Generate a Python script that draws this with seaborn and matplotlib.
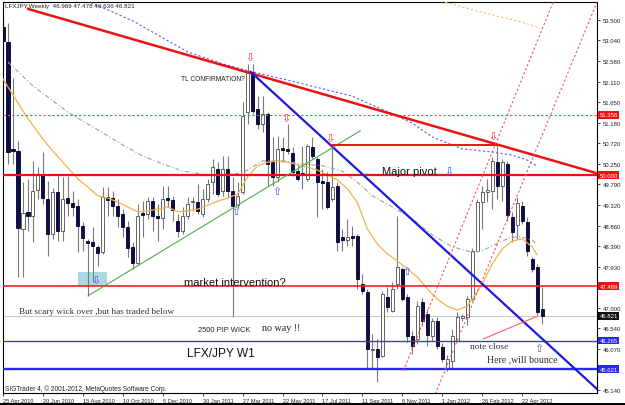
import numpy as np
import pandas as pd
import matplotlib
matplotlib.use("Agg")
import matplotlib.pyplot as plt
import matplotlib.transforms as mtransforms
from matplotlib.patches import Rectangle
import seaborn as sns

# ---------------- data (weekly candles, week index 0 = 25 Apr 2010) ----------------
opens = [53.34, 53.00, 50.59, 50.54, 48.78, 49.17, 49.08, 49.66, 50.00, 49.46,
         48.67, 49.62, 48.74, 49.48, 49.37, 49.30, 48.85, 48.51, 48.49, 48.38,
         48.26, 49.50, 49.48, 49.30, 49.12, 48.83, 48.38, 48.01, 49.14, 49.12,
         49.41, 49.08, 49.03, 49.48, 49.44, 48.96, 48.74, 49.08, 49.39, 49.39,
         49.12, 49.46, 49.84, 50.14, 49.64, 50.14, 49.64, 49.32, 49.62, 51.42,
         52.33, 51.49, 51.15, 51.38, 50.29, 49.96, 50.61, 50.59, 50.50, 50.09,
         50.05, 49.91, 50.63, 50.36, 49.87, 49.84, 49.46, 49.75, 48.60, 48.53,
         48.62, 48.62, 47.54, 47.36, 46.05, 46.07, 45.92, 47.25, 46.93, 47.54,
         47.88, 47.25, 46.37, 46.30, 47.13, 46.86, 46.37, 46.71, 46.12, 45.64,
         45.80, 46.25, 46.77, 46.80, 47.20, 48.29, 49.39, 49.62, 49.64, 50.29,
         49.75, 50.25, 49.05, 48.87, 49.30, 48.94, 48.11, 47.92, 46.969]
highs = [53.52, 53.43, 52.19, 50.77, 49.84, 49.91, 50.32, 50.18, 50.52, 49.87,
         49.71, 50.02, 49.96, 49.98, 49.64, 49.46, 48.94, 48.56, 48.83, 48.42,
         49.73, 49.73, 49.64, 49.46, 49.23, 48.96, 48.49, 49.35, 49.41, 49.50,
         49.50, 49.35, 49.75, 49.75, 49.53, 49.12, 49.28, 49.50, 49.50, 49.80,
         49.69, 49.91, 50.36, 50.29, 50.43, 50.43, 49.96, 49.84, 51.65, 52.51,
         52.51, 51.78, 51.78, 51.42, 50.86, 50.88, 50.86, 51.15, 50.63, 50.25,
         50.66, 50.70, 50.86, 50.41, 50.14, 50.07, 50.68, 49.84, 48.78, 49.01,
         48.85, 48.67, 47.77, 47.43, 46.41, 46.30, 47.38, 47.47, 47.59, 49.08,
         47.92, 47.31, 46.48, 47.16, 47.22, 46.98, 46.77, 46.80, 46.21, 45.94,
         46.53, 46.91, 46.86, 47.27, 48.35, 49.46, 49.75, 49.91, 50.41, 50.68,
         50.36, 50.32, 49.17, 49.50, 49.41, 49.05, 48.15, 47.99, 47.478]
lows = [52.98, 50.25, 50.25, 47.70, 47.70, 48.74, 48.49, 49.46, 49.35, 48.17,
        48.56, 48.51, 48.51, 49.08, 49.08, 48.26, 48.29, 47.27, 47.59, 47.95,
        48.22, 49.08, 49.08, 48.83, 48.60, 48.15, 47.88, 47.99, 48.60, 49.01,
        48.74, 48.51, 48.78, 49.28, 48.96, 48.60, 48.67, 49.01, 49.19, 49.12,
        49.05, 49.39, 49.57, 49.53, 49.53, 49.50, 46.80, 49.26, 49.57, 51.15,
        51.38, 51.04, 50.97, 49.75, 49.75, 49.84, 50.29, 50.48, 49.98, 49.87,
        49.69, 49.87, 50.36, 49.05, 49.23, 49.23, 49.41, 48.29, 48.29, 48.40,
        48.40, 47.43, 47.31, 45.62, 45.62, 45.33, 45.89, 46.91, 46.91, 47.43,
        47.16, 46.23, 45.96, 46.19, 46.59, 46.14, 46.25, 46.07, 45.78, 45.58,
        45.64, 46.23, 46.71, 46.62, 47.16, 48.26, 48.78, 49.39, 49.23, 49.46,
        49.41, 48.96, 48.49, 48.56, 48.89, 48.17, 47.81, 46.84, 46.636]
closes = [53.03, 50.52, 50.54, 48.80, 49.14, 49.08, 49.64, 50.02, 49.48, 48.67,
          49.62, 48.74, 49.46, 49.37, 49.28, 48.85, 48.58, 48.47, 48.40, 48.24,
          49.50, 49.44, 49.30, 49.08, 48.83, 48.35, 48.01, 49.08, 49.10, 49.41,
          49.08, 49.03, 49.46, 49.44, 49.21, 48.74, 49.08, 49.35, 49.41, 49.19,
          49.46, 49.80, 50.18, 49.57, 50.14, 49.64, 49.30, 49.53, 51.33, 52.33,
          51.45, 51.15, 51.38, 50.25, 49.96, 50.59, 50.57, 50.54, 50.07, 49.91,
          50.00, 50.66, 50.43, 49.84, 49.82, 49.28, 49.73, 48.49, 48.53, 48.60,
          48.58, 47.65, 47.38, 46.07, 46.08, 45.89, 47.31, 47.02, 47.43, 47.92,
          47.20, 46.37, 46.14, 47.04, 46.71, 46.39, 46.71, 46.14, 45.85, 45.85,
          46.37, 46.80, 46.82, 47.20, 48.29, 49.39, 49.62, 49.66, 50.32, 49.75,
          50.29, 49.10, 48.71, 49.37, 48.96, 48.29, 47.88, 46.91, 46.821]
weeks = np.arange(len(opens))

# moving averages (week index, price)
ma_orange_w = [0, 5, 8, 10, 12, 15, 17, 19, 21, 23, 25, 27, 29, 31, 33, 35, 37, 39, 41, 43,
               45, 47, 49, 51, 53, 55, 57, 59, 61, 63, 65, 67, 69, 71, 73, 75, 77, 79, 81,
               83, 85, 87, 89, 91, 93, 94, 96, 98, 100, 102, 104, 106, 107]
ma_orange_v = [52.17, 51.27, 50.81, 50.54, 50.29, 49.91, 49.73, 49.53, 49.48, 49.39, 49.28,
               49.17, 49.19, 49.23, 49.28, 49.17, 49.19, 49.23, 49.32, 49.41, 49.48, 49.57,
               49.96, 50.21, 50.29, 50.32, 50.29, 50.23, 50.18, 50.11, 50.00, 49.89, 49.69,
               49.38, 48.78, 48.44, 48.22, 48.06, 47.88, 47.70, 47.43, 47.20, 47.04, 46.95,
               47.04, 47.20, 47.54, 47.99, 48.33, 48.51, 48.56, 48.38, 48.20]
ma_gray_w = [1, 6, 13, 20, 24, 28, 32, 36, 40, 44, 48, 52, 56, 60, 64, 68, 71, 74, 78, 82,
             86, 90, 94, 96, 98, 100, 102, 104, 106, 107]
ma_gray_v = [52.55, 52.01, 51.42, 50.95, 50.68, 50.43, 50.25, 50.09, 50.02, 50.00, 50.05,
             50.32, 50.32, 50.25, 50.21, 50.09, 49.84, 49.53, 49.28, 49.01, 48.65, 48.38,
             48.26, 48.29, 48.40, 48.51, 48.60, 48.60, 48.53, 48.44]
ma_blue_w = [16, 26, 37, 44, 50, 60, 70, 74, 78, 82, 86, 92, 98, 102, 105, 107]
ma_blue_v = [53.97, 53.48, 52.78, 52.51, 52.33, 52.06, 51.78, 51.58, 51.38, 51.17, 50.86,
             50.59, 50.52, 50.45, 50.34, 50.20]
ma_top_w = [86, 90, 95, 100, 104, 107]
ma_top_v = [53.97, 53.86, 53.70, 53.56, 53.45, 53.34]

# horizontal levels
level_red_dot = 51.358
level_pivot = 50.000
level_interv = 47.489
level_last = 46.821
level_blue1 = 46.265
level_blue2 = 45.621

# trend lines (week index, price) end points
red_tl_w, red_tl_v = [5, 119.6], [53.75, 50.02]
blue_tl_w, blue_tl_v = [49.6, 119.0], [52.33, 45.17]
green_tl_w, green_tl_v = [17.0, 71.6], [47.27, 51.00]
pivot_seg_w, pivot_seg_v = [66, 99], [50.68, 50.68]
chan_a_w, chan_a_v = [80.2, 110.2], [45.58, 53.90]
chan_b_w, chan_b_v = [86.6, 119.0], [45.06, 53.90]
note_w, note_v = [96.2, 107.2], [46.30, 46.82]

ytick_vals = [53.5, 53.04, 52.58, 52.11, 51.65, 51.18, 50.72, 50.25, 49.79, 49.32,
              48.86, 48.39, 47.93, 47.0, 46.54, 46.07, 45.14]
xtick_weeks = list(range(0, 105, 8))
xtick_labels = ["25 Apr 2010", "20 Jun 2010", "15 Aug 2010", "10 Oct 2010", "5 Dec 2010",
                "30 Jan 2011", "27 Mar 2011", "22 May 2011", "17 Jul 2011", "11 Sep 2011",
                "6 Nov 2011", "1 Jan 2012", "26 Feb 2012", "22 Apr 2012"]

# ---------------- figure ----------------
sns.set_style("white")
plt.rcParams['font.family'] = ['Liberation Sans', 'DejaVu Sans']

fig = plt.figure(figsize=(6.25, 4.06), dpi=100)
ax = fig.add_axes([3 / 625, 12 / 406, 594 / 625, 391 / 406])
ax.set_xlim(0.2, 119.0)
ax.set_ylim(45.08, 53.906)

df = pd.DataFrame({'week': weeks, 'open': opens, 'high': highs, 'low': lows, 'close': closes})
bull = df['close'] >= df['open']
bottom = np.minimum(df['open'], df['close'])
height = np.maximum((df['close'] - df['open']).abs(), 0.015)

# teal highlight box
ax.add_patch(Rectangle((15.0, 47.50), 5.8, 0.31, facecolor='#a9dadf', edgecolor='none', zorder=1))

ax.vlines(df['week'], df['low'], df['high'], color='#7a7a7a', lw=0.8, zorder=2)
ax.bar(df['week'][bull], height[bull], bottom=bottom[bull], width=0.62,
       color='white', edgecolor='#4a4a4a', linewidth=0.6, zorder=3)
ax.bar(df['week'][~bull], height[~bull], bottom=bottom[~bull], width=0.62,
       color='#0d0d4f', edgecolor='#000022', linewidth=0.6, zorder=3)

# moving averages
sns.lineplot(x=ma_orange_w, y=ma_orange_v, ax=ax, color='#f6b24a', lw=0.9, zorder=4,
             sort=False, estimator=None)
sns.lineplot(x=ma_gray_w, y=ma_gray_v, ax=ax, color='#a0a0a0', lw=0.8, zorder=4,
             sort=False, estimator=None, linestyle=(0, (4, 2, 1, 2)))
sns.lineplot(x=ma_blue_w, y=ma_blue_v, ax=ax, color='#5a5aff', lw=0.8, zorder=4,
             sort=False, estimator=None, linestyle=(0, (2, 2)))
sns.lineplot(x=ma_top_w, y=ma_top_v, ax=ax, color='#f8c060', lw=0.8, zorder=4,
             sort=False, estimator=None, linestyle=(0, (2, 2)))

# horizontal levels
ax.axhline(level_red_dot, color='#ff4040', lw=0.8, ls=(0, (2, 2)), zorder=5)
ax.axhline(level_pivot, color='#ee1111', lw=1.6, zorder=5)
ax.axhline(level_interv, color='#ee2222', lw=1.2, zorder=5)
ax.axhline(level_last, color='#c8c8c8', lw=0.8, zorder=1.5)
ax.axhline(level_blue1, color='#3a3aee', lw=1.0, zorder=5)
ax.axhline(level_blue2, color='#2a2aee', lw=1.7, zorder=5)

# trend lines
ax.plot(red_tl_w, red_tl_v, color='#ee1111', lw=1.8, zorder=6)
ax.plot(blue_tl_w, blue_tl_v, color='#1a1ae0', lw=1.6, zorder=6)
ax.plot(green_tl_w, green_tl_v, color='#4caf50', lw=0.8, zorder=6)
ax.plot(pivot_seg_w, pivot_seg_v, color='#ee1111', lw=1.4, zorder=6)
ax.plot(chan_a_w, chan_a_v, color='#ff5050', lw=0.8, ls=(0, (2, 2)), zorder=6)
ax.plot(chan_b_w, chan_b_v, color='#ff5050', lw=0.8, ls=(0, (2, 2)), zorder=6)
ax.plot(note_w, note_v, color='#ff6060', lw=0.8, zorder=6)

# arrows
arrow_kw = dict(family='DejaVu Sans', fontsize=8, ha='center', va='center', zorder=7)
for (x, y) in [(49.4, 52.66), (56.6, 51.29), (65.4, 50.84), (98.2, 50.88)]:
    ax.text(x, y, '\u21e9', color='#ff3030', **arrow_kw)
for (x, y) in [(46.6, 49.19), (54.8, 49.64), (80.8, 47.83)]:
    ax.text(x, y, '\u21e7', color='#5050ff', **arrow_kw)
for (x, y) in [(89.4, 50.09), (18.6, 47.63)]:
    ax.text(x, y, '\u21e9', color='#5050ff', **arrow_kw)
ax.text(107.4, 46.10, '\u21e7', color='#606060', **arrow_kw)

# annotations
ax.text(0.4, 53.82, 'LFXJPY,Weekly  46.969 47.478 46.636 46.821', fontsize=4.5,
        color='#202020', ha='left', va='center', zorder=8)
ax.text(35.6, 52.19, 'TL CONFIRMATION?', fontsize=4.8, color='#202020', ha='left', va='center', zorder=8)
ax.text(76.0, 50.09, 'Major pivot', fontsize=8, color='#111111', ha='left', va='center', zorder=8)
ax.text(36.2, 47.59, 'market intervention?', fontsize=8, color='#111111', ha='left', va='center', zorder=8)
ax.text(36.8, 45.98, 'LFX/JPY W1', fontsize=8.6, color='#111111', ha='left', va='center', zorder=8)
ax.text(39.0, 46.52, '2500 PIP WICK', fontsize=5.4, color='#222222', ha='left', va='center', zorder=8)
ax.text(51.8, 46.55, 'no way !!', fontsize=7.2, family='Liberation Serif', color='#222222',
        ha='left', va='center', zorder=8)
ax.text(3.2, 46.93, 'But scary wick over ,but has traded below', fontsize=6.6,
        family='Liberation Serif', color='#333333', ha='left', va='center', zorder=8)
ax.text(93.6, 46.14, 'note close', fontsize=6.8, family='Liberation Serif', color='#333333',
        ha='left', va='center', zorder=8)
ax.text(97.0, 45.85, 'Here ,will bounce', fontsize=7.0, family='Liberation Serif', color='#333333',
        ha='left', va='center', zorder=8)
ax.text(0.4, 45.19, 'SIGTrader 4, \u00a9 2001-2012, MetaQuotes Software Corp.', fontsize=4.7,
        color='#202020', ha='left', va='center', zorder=8)

# axes styling
for s in ax.spines.values():
    s.set_color('#000000')
    s.set_linewidth(0.8)
ax.yaxis.tick_right()
ax.set_yticks(ytick_vals)
ax.set_yticklabels([f"{v:.3f}" for v in ytick_vals])
ax.tick_params(axis='y', which='both', right=True, length=2, width=0.6, labelsize=4.3,
               pad=2, colors='#222222')
ax.set_xticks(xtick_weeks)
ax.set_xticklabels(xtick_labels)
ax.tick_params(axis='x', which='both', bottom=True, length=2, width=0.6, labelsize=4.1,
               pad=1.5, colors='#222222')
for lab in ax.get_xticklabels():
    lab.set_ha('left')
ax.set_xlabel('')
ax.set_ylabel('')
ax.grid(False)

# highlighted price labels on the right scale
trans = mtransforms.blended_transform_factory(ax.transAxes, ax.transData)
for val, col in [(level_red_dot, '#ee1111'), (level_pivot, '#ee1111'), (level_interv, '#ee1111'),
                 (level_last, '#111111'), (level_blue1, '#2a2aee'), (level_blue2, '#2a2aee')]:
    ax.text(1.004, val, f"{val:.3f}", transform=trans, fontsize=4.3, color='white',
            ha='left', va='center', zorder=9, clip_on=False,
            bbox=dict(boxstyle='square,pad=0.25', facecolor=col, edgecolor='none'))

fig.patches.append(Rectangle((0, 0), 1, 2.5 / 406, transform=fig.transFigure,
                             facecolor='black', edgecolor='none', zorder=0))

fig.savefig('out.png', dpi=100, facecolor='white')
